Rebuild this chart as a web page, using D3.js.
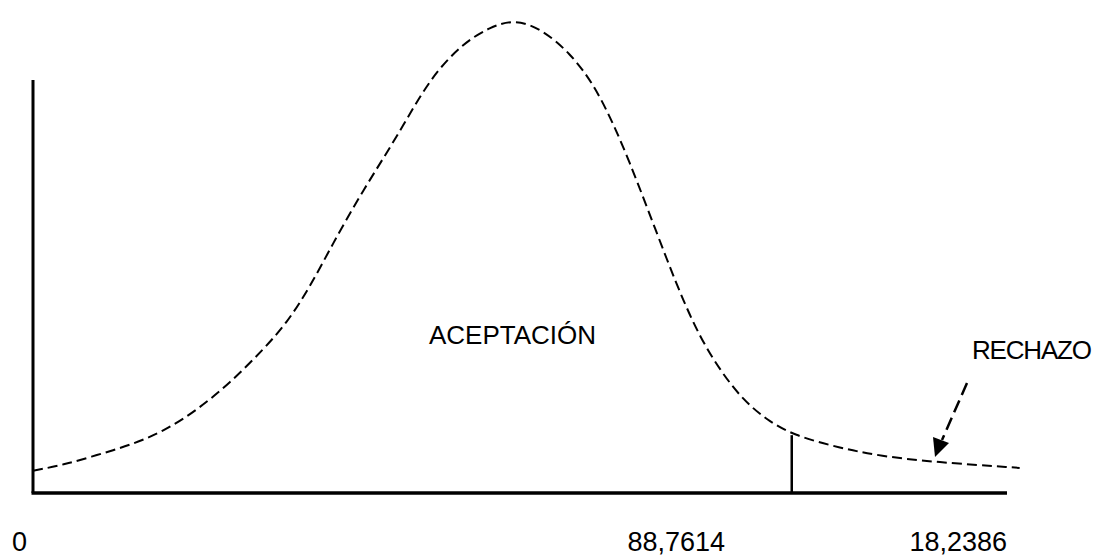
<!DOCTYPE html>
<html><head><meta charset="utf-8">
<script src="https://cdn.jsdelivr.net/npm/d3@7"></script>
<style>html,body{margin:0;padding:0;background:#fff;}svg{display:block;}</style>
</head><body>
<script>
// Curve (x: arbitrary 0-100 units along axis, y: relative density 0-100)
const curveX = [0, 3.08, 6.57, 9.96, 13.35, 16.84, 20.23, 23.61, 26.08, 28.44, 30.70, 33.88, 37.37, 40.76, 44.15, 46.92, 49.49, 52.36, 55.13, 57.49, 59.55, 61.29, 63.04, 65.09, 66.74, 68.48, 70.53, 72.90, 75.36, 78.03, 82.85, 86.96, 92.61, 101.3];
const curveY = [4.7, 5.9, 8.0, 10.1, 12.9, 17.5, 23.2, 30.2, 35.9, 43.5, 52.3, 63.9, 75.1, 87.6, 94.9, 98.3, 100, 97.7, 92.8, 86.5, 78.1, 69.6, 60.3, 49.2, 40.7, 32.9, 25.9, 19.6, 15.4, 12.2, 9.5, 7.8, 6.5, 5.3];
const cutX = 77.9, cutY = 12.2;
const tickLabels = ["0", "88,7614", "18,2386"];
const regionLabels = ["ACEPTACIÓN", "RECHAZO"];

const W = 1096, H = 559;
const svg = d3.select("body").append("svg").attr("width", W).attr("height", H);
const x = d3.scaleLinear().domain([0, 100]).range([33, 1007]);
const y = d3.scaleLinear().domain([0, 100]).range([493, 19]);
const font = "'Liberation Sans', Arial, sans-serif";

// axes
svg.append("line").attr("x1", x(0)).attr("x2", x(0)).attr("y1", 80).attr("y2", y(0))
  .attr("stroke", "#000").attr("stroke-width", 3);
svg.append("line").attr("x1", x(0) - 1.5).attr("x2", x(100)).attr("y1", y(0)).attr("y2", y(0))
  .attr("stroke", "#000").attr("stroke-width", 3.5);

// curve
const pts = curveX.map((v, i) => [v, curveY[i]]);
const line = d3.line().x(d => x(d[0])).y(d => y(d[1])).curve(d3.curveBasis);
svg.append("path").attr("d", line(pts)).attr("fill", "none").attr("stroke", "#000")
  .attr("stroke-width", 2).attr("stroke-dasharray", "10,5");

// cut line
svg.append("line").attr("x1", x(cutX)).attr("x2", x(cutX)).attr("y1", y(cutY)).attr("y2", y(0))
  .attr("stroke", "#000").attr("stroke-width", 2.5);

// tick labels
svg.selectAll("text.tick").data(tickLabels).enter().append("text")
  .attr("class", "tick")
  .attr("x", (d, i) => i === 0 ? 12 : (i === 1 ? 725 : 1007))
  .attr("y", 551)
  .attr("text-anchor", (d, i) => i === 0 ? "start" : "end")
  .style("font-family", font).style("font-size", "27px").attr("fill", "#000")
  .text(d => d);

// region labels
svg.append("text").attr("x", 429).attr("y", 344).style("font-family", font)
  .style("font-size", "26px").attr("fill", "#000").attr("textLength", 167).text(regionLabels[0]);
svg.append("text").attr("x", 972).attr("y", 359).style("font-family", font)
  .style("font-size", "26px").attr("fill", "#000").attr("textLength", 120).text(regionLabels[1]);

// arrow (dashed shaft + solid head)
svg.append("path").attr("d", "M967,383 L942,440").attr("stroke", "#000").attr("stroke-width", 2.5)
  .attr("stroke-dasharray", "13,6").attr("fill", "none");
svg.append("path").attr("d", "M933,437 L949,443 L935,457 Z").attr("fill", "#000");
</script>
</body></html>
